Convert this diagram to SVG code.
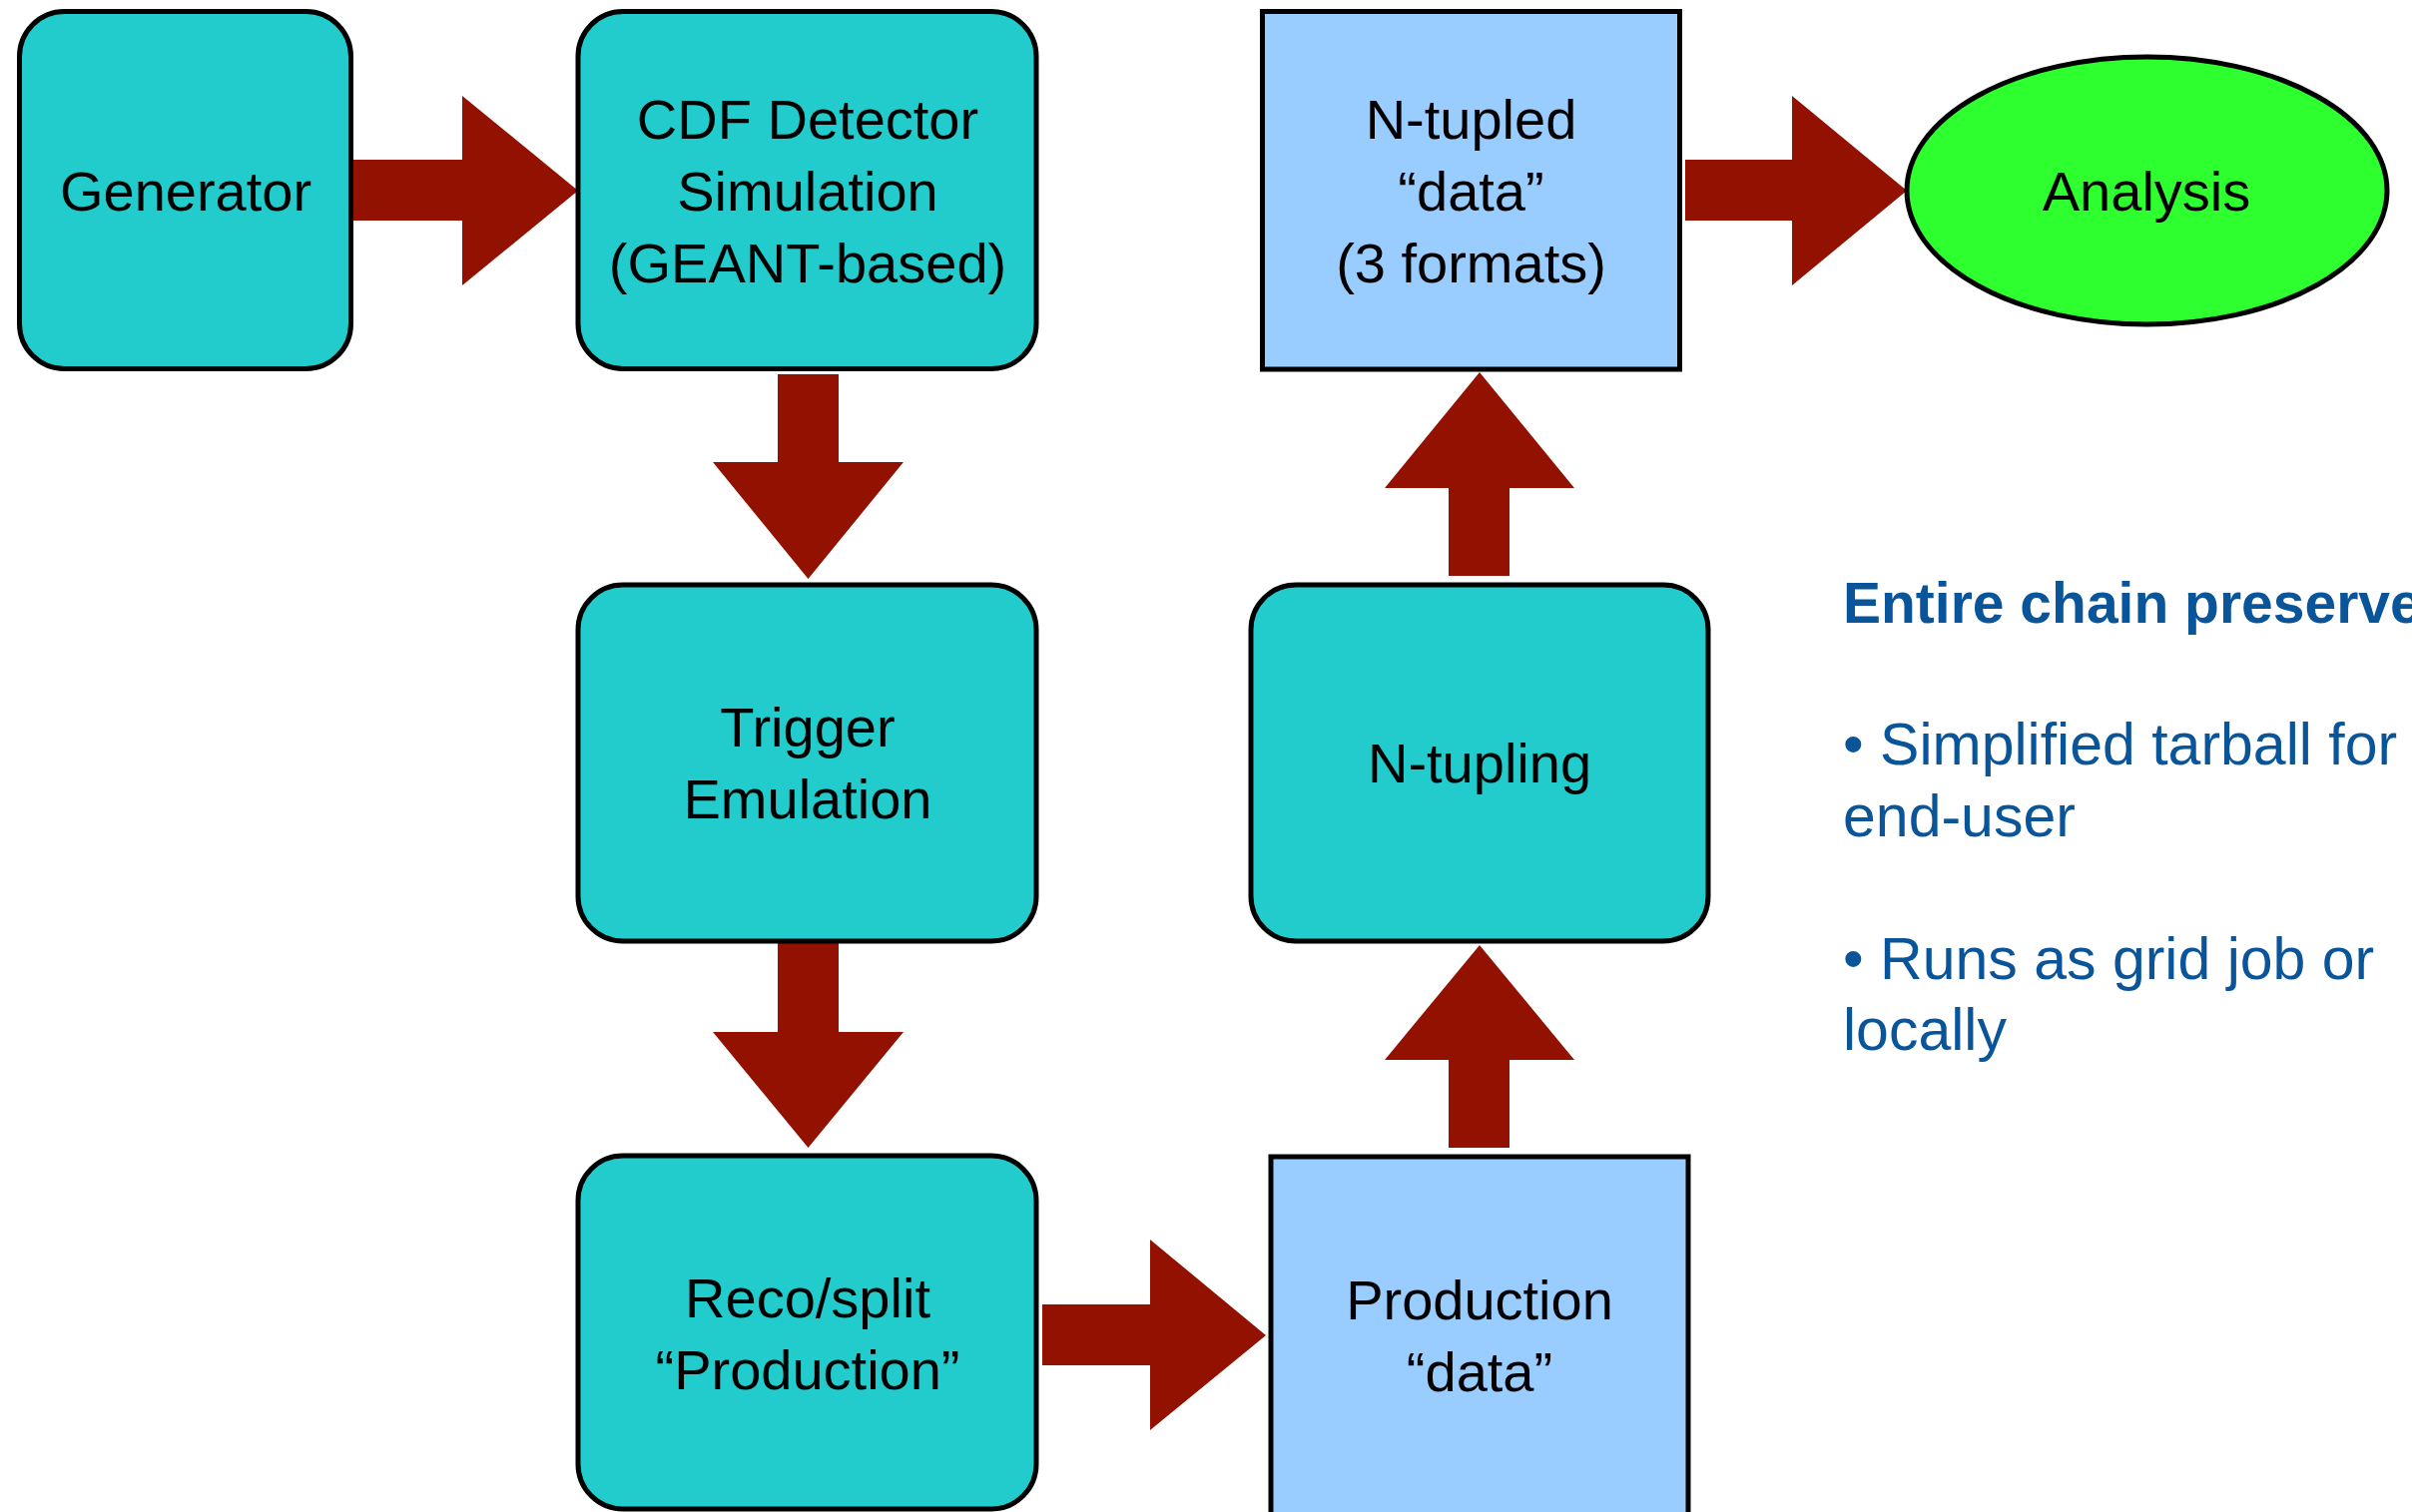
<svg xmlns="http://www.w3.org/2000/svg" width="2416" height="1515" viewBox="0 0 2416 1515">
<style>
.proc{fill:#22CCCC;stroke:#000;stroke-width:5}
.data{fill:#99CCFF;stroke:#000;stroke-width:5}
.ana{fill:#2EFF2E;stroke:#000;stroke-width:5}
.arr{fill:#931100}
.lbl{font-family:"Liberation Sans",Arial,sans-serif;font-size:56px;fill:#000;text-anchor:middle}
.note{font-family:"Liberation Sans",Arial,sans-serif;font-size:59px;fill:#0A5599}
.head{font-weight:bold;font-size:57px}
</style>
<rect width="2416" height="1515" fill="#fff"/>
<g id="connectors">
<polygon class="arr" points="354,160 463,160 463,96 579,191 463,286 463,221 354,221"/>
<polygon class="arr" points="779,375 840,375 840,463 905,463 809.5,580 714,463 779,463"/>
<polygon class="arr" points="779,944 840,944 840,1034 905,1034 809.5,1150 714,1034 779,1034"/>
<polygon class="arr" points="1044,1307 1152,1307 1152,1242 1268,1338 1152,1433 1152,1368 1044,1368"/>
<polygon class="arr" points="1451,1150 1451,1062 1387,1062 1482,947 1577,1062 1512,1062 1512,1150"/>
<polygon class="arr" points="1451,577 1451,489 1387,489 1482,373 1577,489 1512,489 1512,577"/>
<polygon class="arr" points="1688,160 1795,160 1795,96 1910,191 1795,286 1795,221 1688,221"/>
</g>
<g id="generator">
<rect class="proc" x="19.5" y="11.5" width="332" height="358" rx="45"/>
<text class="lbl" x="186" y="211">Generator</text>
</g>
<g id="cdf-sim">
<rect class="proc" x="579" y="11.5" width="459" height="358" rx="45"/>
<text class="lbl" x="809" y="139">CDF Detector</text>
<text class="lbl" x="809" y="211">Simulation</text>
<text class="lbl" x="809" y="283">(GEANT-based)</text>
</g>
<g id="trigger">
<rect class="proc" x="579" y="586" width="459" height="357" rx="45"/>
<text class="lbl" x="809" y="748">Trigger</text>
<text class="lbl" x="809" y="820">Emulation</text>
</g>
<g id="reco">
<rect class="proc" x="579" y="1158" width="459" height="354" rx="45"/>
<text class="lbl" x="809" y="1320">Reco/split</text>
<text class="lbl" x="809" y="1392">“Production”</text>
</g>
<g id="production-data">
<rect class="data" x="1273" y="1159" width="418" height="365"/>
<text class="lbl" x="1482" y="1322">Production</text>
<text class="lbl" x="1482" y="1394">“data”</text>
</g>
<g id="ntupling">
<rect class="proc" x="1253" y="586" width="458" height="357" rx="45"/>
<text class="lbl" x="1482" y="784">N-tupling</text>
</g>
<g id="ntupled-data">
<rect class="data" x="1264.5" y="11.5" width="418" height="358.5"/>
<text class="lbl" x="1473.5" y="139">N-tupled</text>
<text class="lbl" x="1473.5" y="211">“data”</text>
<text class="lbl" x="1473.5" y="283">(3 formats)</text>
</g>
<g id="analysis">
<ellipse class="ana" cx="2150.5" cy="191" rx="240.5" ry="134"/>
<text class="lbl" x="2150" y="211">Analysis</text>
</g>
<g id="notes">
<text class="note head" x="1846" y="624">Entire chain preserve</text>
<text class="note" x="1846" y="766">• Simplified tarball for</text>
<text class="note" x="1846" y="838">end-user</text>
<text class="note" x="1846" y="981">• Runs as grid job or</text>
<text class="note" x="1846" y="1052">locally</text>
</g>
</svg>
